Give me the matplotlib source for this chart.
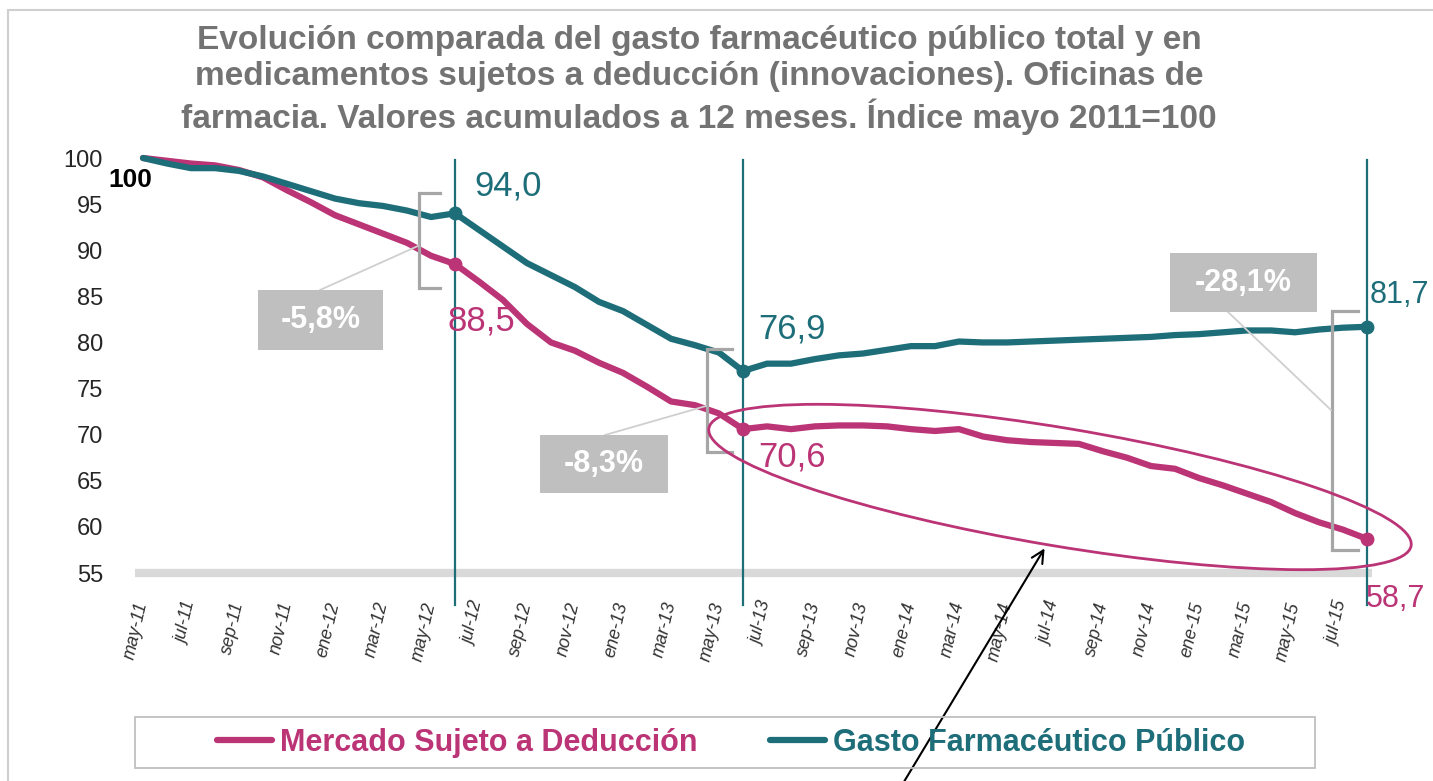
import matplotlib
matplotlib.use("Agg")
import matplotlib.pyplot as plt
from matplotlib.patches import Ellipse, Rectangle
from matplotlib.lines import Line2D
from matplotlib.transforms import Affine2D

plt.rcParams['font.family'] = ['Liberation Sans', 'DejaVu Sans']

# ---------------- data ----------------
months = ['may-11', 'jun-11', 'jul-11', 'ago-11', 'sep-11', 'oct-11', 'nov-11', 'dic-11',
          'ene-12', 'feb-12', 'mar-12', 'abr-12', 'may-12', 'jun-12', 'jul-12', 'ago-12',
          'sep-12', 'oct-12', 'nov-12', 'dic-12', 'ene-13', 'feb-13', 'mar-13', 'abr-13',
          'may-13', 'jun-13', 'jul-13', 'ago-13', 'sep-13', 'oct-13', 'nov-13', 'dic-13',
          'ene-14', 'feb-14', 'mar-14', 'abr-14', 'may-14', 'jun-14', 'jul-14', 'ago-14',
          'sep-14', 'oct-14', 'nov-14', 'dic-14', 'ene-15', 'feb-15', 'mar-15', 'abr-15',
          'may-15', 'jun-15', 'jul-15', 'ago-15']

mercado = [100.0, 99.7, 99.4, 99.2, 98.7, 97.9, 96.5, 95.2, 93.8, 92.8, 91.8, 90.8,
           89.4, 88.5, 86.6, 84.6, 82.0, 80.0, 79.1, 77.8, 76.7, 75.2, 73.6, 73.2,
           72.3, 70.6, 70.9, 70.6, 70.9, 71.0, 71.0, 70.9, 70.6, 70.4, 70.6, 69.8,
           69.4, 69.2, 69.1, 69.0, 68.2, 67.5, 66.6, 66.3, 65.3, 64.5, 63.6, 62.7,
           61.5, 60.5, 59.7, 58.7]

gasto = [100.0, 99.4, 98.9, 98.9, 98.6, 98.0, 97.2, 96.4, 95.6, 95.1, 94.8, 94.3,
         93.6, 94.0, 92.2, 90.4, 88.6, 87.3, 86.0, 84.4, 83.4, 81.9, 80.4, 79.7,
         78.9, 76.9, 77.7, 77.7, 78.2, 78.6, 78.8, 79.2, 79.6, 79.6, 80.1, 80.0,
         80.0, 80.1, 80.2, 80.3, 80.4, 80.5, 80.6, 80.8, 80.9, 81.1, 81.3, 81.3,
         81.1, 81.4, 81.6, 81.7]

key_months = ['jun-12', 'jun-13', 'ago-15']
changes = ['-5,8%', '-8,3%', '-28,1%']
yticks = [55, 60, 65, 70, 75, 80, 85, 90, 95, 100]

series_names = ['Mercado Sujeto a Deducción', 'Gasto Farmacéutico Público']

# ---------------- style ----------------
MAG = '#BB3476'
TEAL = '#1E6E7A'
TITLE_C = '#737373'
BOX_C = '#BFBFBF'
BRK_C = '#A6A6A6'

W, H = 1433, 781
fig = plt.figure(figsize=(W / 100, H / 100), dpi=100)
PX = Affine2D().scale(1 / 100.0) + fig.dpi_scale_trans  # pixel coords, y up


def fx(x):
    return x / W


def fy(y):
    return 1 - y / H


# outer frame (left + top visible)
fig.add_artist(Rectangle((8, H - 1000), 1500, 1000 - 10, transform=PX, fill=False,
                         edgecolor='#CFCFCF', lw=1.5))

# axes: x index 0 at px 143, 24 px per month ; y 55 at px 573, 100 at px 158
ax_l, ax_r = 135, 1372
ax = fig.add_axes([fx(ax_l), fy(573), (ax_r - ax_l) / W, (573 - 158) / H])
ax.set_xlim(-(143 - ax_l) / 24.0, len(months) - 1 + (ax_r - 1367) / 24.0)
ax.set_ylim(55, 100)
for s in ax.spines.values():
    s.set_visible(False)
ax.patch.set_alpha(0)

x = list(range(len(months)))

# gray baseline
ax.plot([ax.get_xlim()[0], ax.get_xlim()[1]], [55, 55], color='#D9D9D9', lw=6,
        solid_capstyle='butt', clip_on=False, zorder=1)

# vertical key lines
key_idx = [months.index(m) for m in key_months]
for k in key_idx:
    ax.plot([k, k], [51.5, 99.8], color=TEAL, lw=1.6, clip_on=False, zorder=2)

l1, = ax.plot(x, mercado, color=MAG, lw=4.5, solid_capstyle='round', clip_on=False, zorder=4,
              label=series_names[0])
l2, = ax.plot(x, gasto, color=TEAL, lw=4.5, solid_capstyle='round', clip_on=False, zorder=4,
              label=series_names[1])

ax.plot(key_idx, [mercado[k] for k in key_idx], 'o', color=MAG, ms=9, clip_on=False, zorder=5)
ax.plot(key_idx, [gasto[k] for k in key_idx], 'o', color=TEAL, ms=9, clip_on=False, zorder=5)

# ticks
ax.set_yticks(yticks)
ax.set_yticklabels([str(v) for v in yticks], fontsize=17, color='#262626')
ax.tick_params(axis='y', length=0, pad=23)
xt = x[::2]
ax.set_xticks(xt)
ax.set_xticklabels([months[i] for i in xt], rotation=77, ha='right', va='center',
                   rotation_mode='anchor', fontsize=13, style='italic', color='#333333')
ax.tick_params(axis='x', length=0, pad=21)


def fmt(v):
    return f'{v:.1f}'.replace('.', ',')


# data labels
ax.annotate('100', (0, mercado[0]), xytext=(-9, -16), textcoords='offset points',
            ha='center', va='center', fontsize=19, fontweight='bold', color='black', zorder=6)
offs_g = [(38, 20), (35, 30), (2, 23)]
offs_m = [(19, -41), (35, -20), (-1, -43)]
for i, (k, og, om) in enumerate(zip(key_idx, offs_g, offs_m)):
    last = i == len(key_idx) - 1
    ha = 'left' if last else 'center'
    fs = 22 if last else 25
    ax.annotate(fmt(gasto[k]), (k, gasto[k]), xytext=og, textcoords='offset points',
                ha=ha, va='center', fontsize=fs, color=TEAL, annotation_clip=False, zorder=6)
    ax.annotate(fmt(mercado[k]), (k, mercado[k]), xytext=om, textcoords='offset points',
                ha=ha, va='center', fontsize=fs, color=MAG, annotation_clip=False, zorder=6)

# brackets, connectors and boxes (pixel layout)
brackets = [(419, 193, 288, 440), (707, 349, 452, 732), (1332, 311, 550, 1358)]
boxes = [(258, 290, 383, 350), (540, 435, 668, 493), (1170, 253, 1317, 312)]
connectors = [((320, 290), (418, 246)), ((605, 435), (706, 406)), ((1228, 312), (1331, 410))]

for (bx, y0, y1, tx) in brackets:
    fig.add_artist(Line2D([tx, bx, bx, tx], [H - y0, H - y0, H - y1, H - y1], transform=PX,
                          color=BRK_C, lw=2.3, solid_joinstyle='miter', zorder=3))
for (p0, p1) in connectors:
    fig.add_artist(Line2D([p0[0], p1[0]], [H - p0[1], H - p1[1]], transform=PX,
                          color='#CFCFCF', lw=1.3, zorder=3))
for (x0, y0, x1, y1), txt in zip(boxes, changes):
    fig.add_artist(Rectangle((x0, H - y1), x1 - x0, y1 - y0, transform=PX,
                             facecolor=BOX_C, edgecolor='none', zorder=3))
    fig.text(fx((x0 + x1) / 2), fy((y0 + y1) / 2), txt, ha='center', va='center',
             fontsize=22, fontweight='bold', color='white', zorder=4)

# ellipse highlight
fig.add_artist(Ellipse((1060, H - 487), 712, 118, angle=-9.5, transform=PX, fill=False,
                       edgecolor=MAG, lw=2, zorder=5))

# arrow
ax.annotate('', xy=(1046, H - 546), xytext=(893, H - 800), xycoords=PX, textcoords=PX,
            arrowprops=dict(arrowstyle='->', color='black', lw=1.5, mutation_scale=22),
            annotation_clip=False, zorder=7)

# title
fig.text(fx(699), fy(80), 'Evolución comparada del gasto farmacéutico público total y en\n'
         'medicamentos sujetos a deducción (innovaciones). Oficinas de\n'
         'farmacia. Valores acumulados a 12 meses. Índice mayo 2011=100',
         ha='center', va='center', fontsize=24, fontweight='bold', color=TITLE_C,
         linespacing=1.23)

# legend (frame drawn as separate rectangle matching the reference box)
fig.add_artist(Rectangle((135, H - 768), 1315 - 135, 51, transform=PX, fill=False,
                         edgecolor='#BFBFBF', lw=1.3))
leg = fig.legend(handles=[l1, l2], loc='center',
                 bbox_to_anchor=(fx(731), fy(743)),
                 ncol=2, frameon=False, fontsize=22,
                 handlelength=1.8, handletextpad=0.25, columnspacing=2.4,
                 borderaxespad=0, borderpad=0.0)
for t, c in zip(leg.get_texts(), [MAG, TEAL]):
    t.set_color(c)
    t.set_fontweight('bold')
for h in leg.get_lines():
    h.set_linewidth(4.5)

fig.savefig('out.png', dpi=100)
